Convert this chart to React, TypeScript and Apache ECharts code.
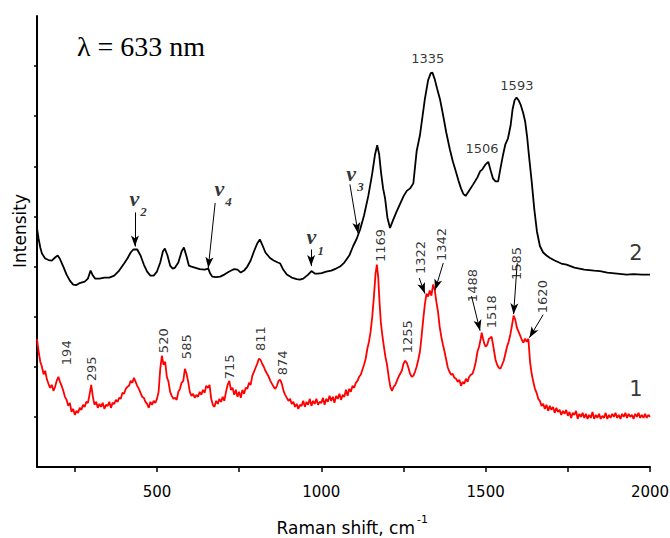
import React, { useEffect, useRef } from 'react';
import * as echarts from 'echarts';

// Spectrum 2 (black), [Raman shift, intensity]
const blackSpectrum: [number, number][] = [
  [135, 4.76], [140, 4.55], [145, 4.38], [150, 4.26], [160, 4.16], [170, 4.13], [180, 4.12], [190, 4.18], [198, 4.22],
  [205, 4.15], [215, 4.0], [225, 3.84], [235, 3.72], [245, 3.64], [255, 3.63], [265, 3.67], [280, 3.7], [290, 3.76],
  [298, 3.92], [305, 3.82], [312, 3.76], [325, 3.76], [340, 3.78], [355, 3.78], [370, 3.82], [385, 3.92], [400, 4.06],
  [410, 4.16], [420, 4.28], [428, 4.34], [440, 4.34], [450, 4.22], [460, 4.04], [470, 3.9], [480, 3.82], [490, 3.82],
  [500, 3.9], [510, 4.08], [518, 4.3], [524, 4.36], [532, 4.22], [540, 4.02], [548, 3.96], [555, 3.98], [565, 4.08],
  [575, 4.3], [582, 4.38], [590, 4.2], [597, 4.02], [605, 4.0], [615, 3.98], [630, 3.95], [645, 3.94], [656, 3.96],
  [662, 3.86], [668, 3.8], [680, 3.79], [692, 3.8], [705, 3.84], [720, 3.9], [735, 3.95], [745, 3.94], [755, 3.88],
  [765, 3.92], [775, 4.0], [785, 4.12], [795, 4.3], [805, 4.46], [813, 4.54], [820, 4.44], [830, 4.28], [844, 4.17],
  [855, 4.12], [868, 4.08], [875, 4.06], [884, 3.94], [895, 3.84], [910, 3.78], [925, 3.75], [935, 3.74], [945, 3.76],
  [960, 3.84], [970, 3.91], [980, 3.86], [990, 3.86], [1001, 3.87], [1015, 3.9], [1030, 3.92], [1045, 3.96], [1057, 4.0],
  [1070, 4.08], [1085, 4.22], [1097, 4.41], [1108, 4.56], [1118, 4.74], [1130, 5.02], [1143, 5.41], [1155, 5.86],
  [1163, 6.22], [1170, 6.42], [1176, 6.24], [1182, 5.86], [1188, 5.56], [1194, 5.36], [1201, 4.98], [1209, 4.77],
  [1218, 4.92], [1228, 5.08], [1239, 5.24], [1250, 5.4], [1260, 5.51], [1270, 5.56], [1280, 5.66], [1290, 6.3],
  [1300, 6.62], [1308, 7.0], [1315, 7.34], [1325, 7.72], [1333, 7.86], [1338, 7.87], [1345, 7.74], [1352, 7.56],
  [1361, 7.34], [1370, 7.04], [1380, 6.68], [1391, 6.34], [1400, 6.1], [1410, 5.88], [1417, 5.72], [1425, 5.56],
  [1432, 5.45], [1439, 5.41], [1450, 5.52], [1462, 5.64], [1475, 5.78], [1483, 5.9], [1490, 5.94], [1500, 6.04],
  [1508, 6.09], [1515, 5.92], [1522, 5.76], [1530, 5.7], [1538, 5.7], [1545, 5.96], [1552, 6.2], [1560, 6.44],
  [1568, 6.56], [1576, 6.82], [1582, 7.14], [1588, 7.32], [1594, 7.37], [1600, 7.32], [1607, 7.22], [1614, 7.07],
  [1620, 6.9], [1626, 6.6], [1632, 6.2], [1640, 5.7], [1648, 5.14], [1656, 4.7], [1665, 4.41], [1675, 4.28],
  [1685, 4.22], [1696, 4.17], [1710, 4.12], [1730, 4.06], [1746, 4.04], [1770, 3.98], [1800, 3.94], [1830, 3.92],
  [1848, 3.91], [1870, 3.88], [1900, 3.86], [1929, 3.84], [1950, 3.85], [1975, 3.84], [2000, 3.84],
];

// Spectrum 1 (red), [Raman shift, intensity]
const redSpectrum: [number, number][] = [
  [135, 2.55], [140, 2.3], [145, 2.1], [150, 2.0], [155, 1.85], [160, 1.92], [165, 1.75], [170, 1.66], [175, 1.58],
  [180, 1.64], [185, 1.52], [190, 1.6], [195, 1.72], [200, 1.8], [205, 1.7], [210, 1.62], [215, 1.52], [220, 1.4],
  [225, 1.34], [230, 1.22], [235, 1.28], [240, 1.1], [245, 1.16], [250, 1.04], [255, 1.12], [260, 1.08], [265, 1.18],
  [270, 1.14], [275, 1.24], [280, 1.2], [285, 1.3], [290, 1.28], [295, 1.45], [300, 1.64], [305, 1.4], [310, 1.24],
  [315, 1.3], [320, 1.18], [325, 1.26], [330, 1.2], [335, 1.28], [340, 1.16], [345, 1.24], [350, 1.22], [355, 1.3],
  [360, 1.18], [365, 1.28], [370, 1.26], [375, 1.34], [380, 1.3], [385, 1.38], [390, 1.36], [395, 1.48], [400, 1.46],
  [405, 1.56], [410, 1.6], [415, 1.62], [420, 1.72], [425, 1.68], [430, 1.78], [435, 1.7], [440, 1.62], [445, 1.56],
  [450, 1.48], [455, 1.4], [460, 1.38], [465, 1.3], [470, 1.26], [475, 1.18], [480, 1.3], [485, 1.24], [490, 1.32],
  [495, 1.28], [500, 1.36], [505, 1.5], [510, 1.96], [515, 2.22], [520, 2.04], [525, 2.1], [530, 1.8], [535, 1.7],
  [540, 1.5], [545, 1.42], [550, 1.36], [555, 1.38], [560, 1.34], [565, 1.5], [570, 1.56], [575, 1.68], [580, 1.72],
  [585, 1.96], [590, 1.86], [595, 1.7], [600, 1.5], [605, 1.42], [610, 1.46], [615, 1.38], [620, 1.44], [625, 1.4],
  [630, 1.5], [635, 1.44], [640, 1.54], [645, 1.48], [650, 1.62], [655, 1.58], [660, 1.64], [665, 1.36], [670, 1.24],
  [675, 1.2], [680, 1.32], [685, 1.26], [690, 1.36], [695, 1.3], [700, 1.4], [705, 1.32], [710, 1.5], [715, 1.64],
  [720, 1.72], [725, 1.54], [730, 1.58], [735, 1.44], [740, 1.54], [745, 1.4], [750, 1.5], [755, 1.38], [760, 1.54],
  [765, 1.46], [770, 1.58], [775, 1.56], [780, 1.68], [785, 1.64], [790, 1.82], [795, 1.9], [800, 1.98], [805, 2.06],
  [810, 2.16], [815, 2.14], [820, 2.06], [825, 2.0], [830, 1.92], [835, 1.86], [840, 1.8], [845, 1.72], [850, 1.66],
  [855, 1.6], [860, 1.56], [865, 1.62], [870, 1.72], [875, 1.74], [880, 1.66], [885, 1.52], [890, 1.44], [895, 1.38],
  [900, 1.32], [905, 1.36], [910, 1.26], [915, 1.3], [920, 1.2], [925, 1.26], [930, 1.16], [935, 1.24], [940, 1.22],
  [945, 1.32], [950, 1.2], [955, 1.3], [960, 1.24], [965, 1.36], [970, 1.22], [975, 1.32], [980, 1.26], [985, 1.36],
  [990, 1.24], [995, 1.3], [1000, 1.28], [1005, 1.38], [1010, 1.24], [1015, 1.36], [1020, 1.3], [1025, 1.42],
  [1030, 1.32], [1035, 1.4], [1040, 1.28], [1045, 1.42], [1050, 1.36], [1055, 1.46], [1060, 1.34], [1065, 1.44],
  [1070, 1.4], [1075, 1.54], [1080, 1.42], [1085, 1.56], [1090, 1.5], [1095, 1.62], [1100, 1.58], [1105, 1.68],
  [1110, 1.72], [1115, 1.8], [1120, 1.84], [1125, 1.94], [1130, 2.04], [1135, 2.16], [1140, 2.36], [1145, 2.5],
  [1150, 2.7], [1155, 3.0], [1160, 3.4], [1165, 3.86], [1169, 4.04], [1173, 3.8], [1177, 3.3], [1181, 2.9],
  [1185, 2.66], [1190, 2.42], [1195, 2.2], [1200, 2.04], [1205, 1.8], [1210, 1.6], [1215, 1.52], [1220, 1.6],
  [1225, 1.64], [1230, 1.72], [1235, 1.8], [1240, 1.86], [1245, 1.92], [1250, 2.06], [1255, 2.12], [1260, 2.08],
  [1265, 1.98], [1270, 1.86], [1275, 1.8], [1280, 1.82], [1285, 1.9], [1290, 2.0], [1295, 2.14], [1300, 2.3],
  [1305, 2.6], [1310, 2.94], [1315, 3.24], [1320, 3.46], [1325, 3.4], [1330, 3.52], [1335, 3.42], [1340, 3.64],
  [1345, 3.54], [1350, 3.3], [1355, 3.1], [1360, 2.8], [1365, 2.6], [1370, 2.44], [1375, 2.3], [1380, 2.14],
  [1385, 1.98], [1390, 1.9], [1395, 1.84], [1400, 1.86], [1405, 1.78], [1410, 1.76], [1415, 1.7], [1420, 1.74],
  [1425, 1.62], [1430, 1.7], [1435, 1.66], [1440, 1.76], [1445, 1.7], [1450, 1.8], [1455, 1.84], [1460, 1.86],
  [1465, 1.96], [1470, 2.1], [1475, 2.3], [1480, 2.4], [1485, 2.56], [1488, 2.68], [1492, 2.56], [1496, 2.46],
  [1500, 2.4], [1505, 2.44], [1510, 2.56], [1515, 2.58], [1518, 2.6], [1522, 2.46], [1526, 2.3], [1530, 2.14],
  [1535, 2.04], [1540, 1.98], [1545, 1.96], [1550, 2.04], [1555, 2.12], [1560, 2.26], [1565, 2.4], [1570, 2.5],
  [1575, 2.64], [1580, 2.82], [1585, 3.02], [1590, 2.94], [1595, 2.78], [1600, 2.7], [1605, 2.62], [1610, 2.54],
  [1615, 2.48], [1620, 2.56], [1625, 2.5], [1630, 2.56], [1635, 2.1], [1640, 1.86], [1645, 1.7], [1650, 1.56],
  [1655, 1.48], [1660, 1.36], [1665, 1.32], [1670, 1.22], [1675, 1.26], [1680, 1.16], [1685, 1.24], [1690, 1.12],
  [1695, 1.22], [1700, 1.14], [1705, 1.2], [1710, 1.08], [1715, 1.18], [1720, 1.1], [1725, 1.14], [1730, 1.04],
  [1735, 1.12], [1740, 1.06], [1745, 1.14], [1750, 1.02], [1755, 1.1], [1760, 0.98], [1765, 1.08], [1770, 1.04],
  [1775, 1.12], [1780, 0.96], [1785, 1.06], [1790, 1.0], [1795, 1.08], [1800, 0.98], [1805, 1.06], [1810, 0.96],
  [1815, 1.04], [1820, 0.98], [1825, 1.1], [1830, 0.96], [1835, 1.04], [1840, 0.98], [1845, 1.06], [1850, 0.96],
  [1855, 1.02], [1860, 0.98], [1865, 1.08], [1870, 0.96], [1875, 1.04], [1880, 0.98], [1885, 1.06], [1890, 1.0],
  [1895, 1.08], [1900, 0.98], [1905, 1.04], [1910, 0.96], [1915, 1.06], [1920, 1.0], [1925, 1.08], [1930, 0.98],
  [1935, 1.06], [1940, 1.0], [1945, 1.04], [1950, 0.96], [1955, 1.06], [1960, 1.0], [1965, 1.08], [1970, 0.98],
  [1975, 1.04], [1980, 0.98], [1985, 1.06], [1990, 0.98], [1995, 1.04], [2000, 1.0],
];

// Rotated peak labels of spectrum 1 [x, y, text]
const redPeakLabels: [number, number, string][] = [
  [226, 2.28, '194'], [302, 1.96, '295'], [521, 2.52, '520'], [591, 2.4, '585'], [722, 2.0, '715'],
  [816, 2.56, '811'], [883, 2.08, '874'], [1179, 4.42, '1169'], [1261, 2.6, '1255'], [1303, 4.18, '1322'],
  [1367, 4.44, '1342'], [1461, 3.62, '1488'], [1519, 3.1, '1518'], [1595, 4.06, '1585'], [1672, 3.4, '1620'],
];

// Horizontal peak labels of spectrum 2
const blackPeakLabels: [number, number, string][] = [
  [1324, 8.16, '1335'], [1489, 6.36, '1506'], [1595, 7.62, '1593'],
];

// Vibration mode labels (nu) and their subscripts
const nuLetters: [number, number, string][] = [
  [431, 5.36, 'v'], [690, 5.55, 'v'], [970, 4.6, 'v'], [1091, 5.86, 'v'],
];
const nuSubscripts: [number, number, string][] = [
  [459, 5.1, '2'], [718, 5.3, '4'], [998, 4.33, '1'], [1119, 5.6, '3'],
];

// Arrows: [from, to]
const arrows: [[number, number], [number, number]][] = [
  [[433, 5.08], [433, 4.4]],
  [[677, 5.27], [656, 3.97]],
  [[969, 4.34], [969, 4.01]],
  [[1087, 5.64], [1112, 4.66]],
  [[1298, 3.77], [1315, 3.46]],
  [[1371, 4.07], [1346, 3.53]],
  [[1457, 3.41], [1483, 2.72]],
  [[1596, 4.07], [1585, 3.05]],
  [[1675, 3.04], [1633, 2.58]],
];

const curveNumbers: [number, number, string][] = [
  [1957, 4.28, '2'], [1957, 1.56, '1'],
];

const xTickValues = [250, 500, 750, 1000, 1250, 1500, 1750, 2000];
const xLabelValues = [500, 1000, 1500, 2000];
const yTickValues = [1, 2, 3, 4, 5, 6, 7, 8];

const SANS = 'DejaVu Sans';
const SERIF = 'Liberation Serif';

function labelSeries(data: [number, number, string][], style: any, rotate = 0) {
  return {
    type: 'scatter',
    data,
    symbolSize: 0,
    silent: true,
    z: 5,
    label: {
      show: true,
      position: 'inside',
      rotate,
      formatter: (p: any) => p.value[2],
      color: '#000',
      ...style,
    },
  };
}

export default function App() {
  const ref = useRef<HTMLDivElement>(null);
  useEffect(() => {
    if (!ref.current) return;
    document.body.style.margin = '0';
    document.body.style.overflow = 'hidden';
    const chart = echarts.init(ref.current, null, { renderer: 'svg' });
    chart.setOption({
      animation: false,
      backgroundColor: '#fff',
      grid: { left: 37, right: 20, top: 16, bottom: 71, outerBoundsMode: 'none', containLabel: false },
      xAxis: {
        type: 'value',
        min: 135,
        max: 2000,
        splitLine: { show: false },
        axisLine: { lineStyle: { color: '#000', width: 2 } },
        axisTick: { show: true, customValues: xTickValues, length: 5, lineStyle: { color: '#000', width: 1.5 } },
        axisLabel: {
          customValues: xLabelValues,
          formatter: (v: number) => String(v),
          color: '#000',
          fontSize: 15,
          fontFamily: SANS,
          margin: 17,
        },
      },
      yAxis: {
        type: 'value',
        min: 0,
        max: 9,
        splitLine: { show: false },
        axisLine: { show: true, lineStyle: { color: '#000', width: 2 } },
        axisTick: { show: true, customValues: yTickValues, length: 3, lineStyle: { color: '#000', width: 1.5 } },
        axisLabel: { show: false },
      },
      graphic: [
        {
          type: 'text',
          x: 20,
          y: 231,
          rotation: Math.PI / 2,
          style: { text: 'Intensity', fontSize: 17, fontFamily: SANS, fill: '#000', align: 'center', verticalAlign: 'middle' },
        },
        {
          type: 'text',
          x: 415,
          y: 528,
          style: { text: 'Raman shift, cm', fontSize: 17, fontFamily: SANS, fill: '#000', align: 'right', verticalAlign: 'middle' },
        },
        {
          type: 'text',
          x: 417,
          y: 519,
          style: { text: '-1', fontSize: 11, fontFamily: SANS, fill: '#000', align: 'left', verticalAlign: 'middle' },
        },
        {
          type: 'text',
          x: 77,
          y: 46,
          style: { text: 'λ = 633 nm', fontSize: 28, fontFamily: SERIF, fill: '#000', align: 'left', verticalAlign: 'middle' },
        },
      ],
      series: [
        {
          type: 'line',
          data: blackSpectrum,
          showSymbol: false,
          silent: true,
          lineStyle: { color: '#000', width: 1.8 },
          z: 2,
          markLine: {
            silent: true,
            symbol: ['none', 'arrow'],
            symbolSize: [6, 11],
            lineStyle: { color: '#000', width: 1, type: 'solid' },
            label: { show: false },
            emphasis: { disabled: true },
            data: arrows.map(([a, b]) => [{ coord: a }, { coord: b }]),
          },
        },
        {
          type: 'line',
          data: redSpectrum,
          showSymbol: false,
          silent: true,
          lineStyle: { color: '#ff0000', width: 1.8 },
          z: 3,
        },
        labelSeries(redPeakLabels, { fontSize: 13, fontFamily: SANS }, 90),
        labelSeries(blackPeakLabels, { fontSize: 13, fontFamily: SANS }),
        labelSeries(nuLetters, { fontSize: 22, fontFamily: SERIF, fontStyle: 'italic', fontWeight: 'bold' }),
        labelSeries(nuSubscripts, { fontSize: 13, fontFamily: SERIF, fontStyle: 'italic', fontWeight: 'bold' }),
        labelSeries(curveNumbers, { fontSize: 21, fontFamily: SANS }),
      ],
    });
    return () => chart.dispose();
  }, []);
  return <div ref={ref} style={{ width: 670, height: 538 }} />;
}
